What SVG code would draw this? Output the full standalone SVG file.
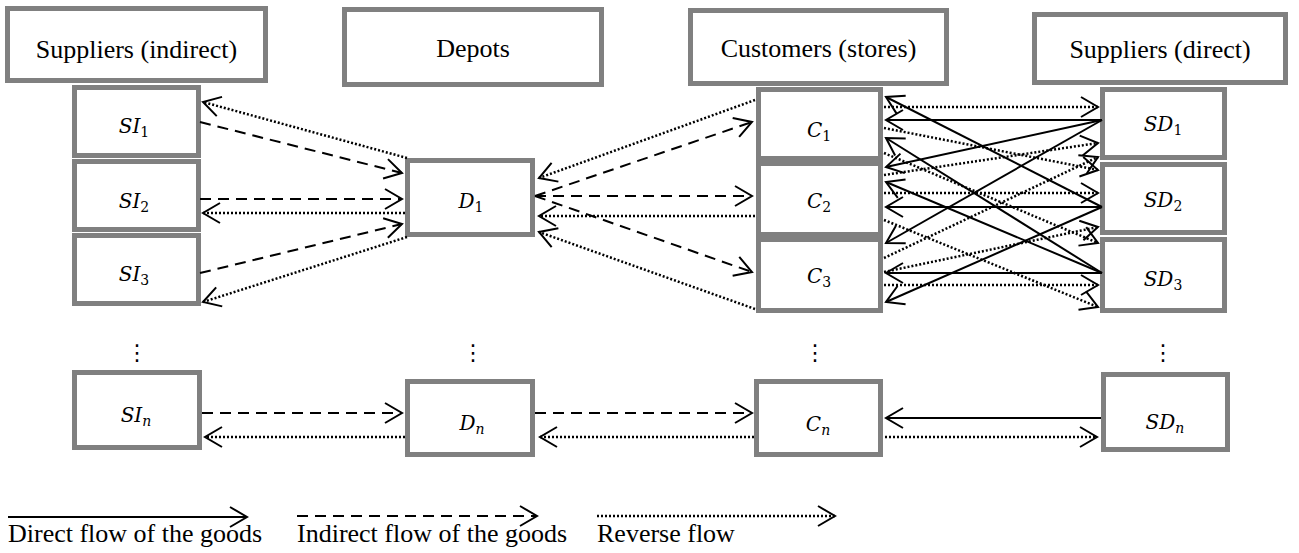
<svg xmlns="http://www.w3.org/2000/svg" width="1299" height="553" viewBox="0 0 1299 553">
<style>
.box{fill:#fff;stroke:#808080;stroke-width:5}
.hd{font-family:"Liberation Serif","Times New Roman",serif;font-size:26px;fill:#000;text-anchor:middle}
.m{font-family:"DejaVu Serif",serif;font-style:italic;font-size:20px;fill:#000;text-anchor:middle}
.sub{font-size:14px;font-style:normal}
.subi{font-size:14px;font-style:italic}
.lg{font-family:"Liberation Serif","Times New Roman",serif;font-size:26px;fill:#000}
.el{font-family:"DejaVu Sans",sans-serif;font-size:22px;fill:#000;text-anchor:middle}
.s{fill:none;stroke:#000;stroke-width:2;marker-end:url(#ah)}
.d{fill:none;stroke:#000;stroke-width:2;stroke-dasharray:11 7;marker-end:url(#ah)}
.o{fill:none;stroke:#000;stroke-width:2.5;stroke-dasharray:2 2;marker-end:url(#ah)}
</style>
<defs>
<marker id="ah" markerWidth="24" markerHeight="24" viewBox="-20 -12 24 24" refX="0" refY="0" orient="auto" markerUnits="userSpaceOnUse" overflow="visible">
<path d="M-17,-10 L0,0 L-17,10" fill="none" stroke="#000" stroke-width="2" stroke-dasharray="none"/>
</marker>
</defs>

<g id="hdr-si"><rect class="box" x="7.5" y="8.5" width="258" height="72"/><text class="hd" x="136.5" y="58">Suppliers (indirect)</text></g>
<g id="hdr-d"><rect class="box" x="344.5" y="9.5" width="257" height="75"/><text class="hd" x="473" y="57">Depots</text></g>
<g id="hdr-c"><rect class="box" x="690.5" y="10.5" width="256" height="73"/><text class="hd" x="818.5" y="57">Customers (stores)</text></g>
<g id="hdr-sd"><rect class="box" x="1034.5" y="14.5" width="251" height="68"/><text class="hd" x="1160" y="58">Suppliers (direct)</text></g>

<g id="SI1"><rect class="box" x="74.5" y="87.5" width="124" height="68"/><text class="m" x="134" y="133">SI<tspan class="sub" dy="4">1</tspan></text></g>
<g id="SI2"><rect class="box" x="74.5" y="161.5" width="124" height="68"/><text class="m" x="134" y="208">SI<tspan class="sub" dy="4">2</tspan></text></g>
<g id="SI3"><rect class="box" x="74.5" y="235.5" width="124" height="68"/><text class="m" x="134" y="281">SI<tspan class="sub" dy="4">3</tspan></text></g>
<g id="SIn"><rect class="box" x="74.5" y="372.5" width="125" height="75"/><text class="m" x="136" y="422">SI<tspan class="subi" dy="4">n</tspan></text></g>

<g id="D1"><rect class="box" x="407.5" y="160.5" width="125" height="74"/><text class="m" x="471" y="208">D<tspan class="sub" dy="4">1</tspan></text></g>
<g id="Dn"><rect class="box" x="407.5" y="381.5" width="125" height="73"/><text class="m" x="472" y="430">D<tspan class="subi" dy="4">n</tspan></text></g>

<g id="C1"><rect class="box" x="758.5" y="89.5" width="122" height="69"/><text class="m" x="819" y="137">C<tspan class="sub" dy="4">1</tspan></text></g>
<g id="C2"><rect class="box" x="758.5" y="163.5" width="122" height="71"/><text class="m" x="819" y="208">C<tspan class="sub" dy="4">2</tspan></text></g>
<g id="C3"><rect class="box" x="758.5" y="239.5" width="122" height="71"/><text class="m" x="819" y="283">C<tspan class="sub" dy="4">3</tspan></text></g>
<g id="Cn"><rect class="box" x="756.5" y="381.5" width="124" height="73"/><text class="m" x="818" y="431">C<tspan class="subi" dy="4">n</tspan></text></g>

<g id="SD1"><rect class="box" x="1102.5" y="89.5" width="122" height="68"/><text class="m" x="1163" y="131">SD<tspan class="sub" dy="4">1</tspan></text></g>
<g id="SD2"><rect class="box" x="1102.5" y="164.5" width="122" height="68"/><text class="m" x="1163" y="207">SD<tspan class="sub" dy="4">2</tspan></text></g>
<g id="SD3"><rect class="box" x="1102.5" y="239.5" width="122" height="71"/><text class="m" x="1163" y="286">SD<tspan class="sub" dy="4">3</tspan></text></g>
<g id="SDn"><rect class="box" x="1103.5" y="374.5" width="124" height="75"/><text class="m" x="1165" y="429">SD<tspan class="subi" dy="4">n</tspan></text></g>

<g id="ellipses">
<text class="el" x="137" y="360">⋮</text>
<text class="el" x="473" y="360">⋮</text>
<text class="el" x="815" y="360">⋮</text>
<text class="el" x="1163" y="360">⋮</text>
</g>

<g id="connectors">
<path class="o" d="M407,158 L203,102"/>
<path class="d" d="M200,122 L402,173"/>
<path class="d" d="M200,199 L402,199"/>
<path class="o" d="M405,213 L203,213"/>
<path class="d" d="M200,273 L402,224"/>
<path class="o" d="M407,237 L203,302"/>

<path class="o" d="M755,100 L539,178"/>
<path class="d" d="M535,196 L752,122"/>
<path class="d" d="M535,196 L752,196"/>
<path class="o" d="M755,216 L539,216"/>
<path class="d" d="M535,196 L752,272"/>
<path class="o" d="M755,309 L539,232"/>

<path class="d" d="M202,413 L402,413"/>
<path class="o" d="M405,437 L205,437"/>
<path class="d" d="M535,413 L752,413"/>
<path class="o" d="M754,437 L540,437"/>
<path class="s" d="M1101,418 L886,418"/>
<path class="o" d="M885,437 L1097,437"/>

<path class="s" d="M1102,120 L886,120"/>
<path class="s" d="M1102,120 L886,167"/>
<path class="s" d="M1102,120 L886,243"/>
<path class="s" d="M1102,207 L886,97"/>
<path class="s" d="M1102,207 L886,207"/>
<path class="s" d="M1102,207 L886,302"/>
<path class="s" d="M1102,273 L886,138"/>
<path class="s" d="M1102,273 L886,182"/>
<path class="s" d="M1102,273 L886,273"/>

<path class="o" d="M884,107 L1098,107"/>
<path class="o" d="M884,128 L1098,170"/>
<path class="o" d="M884,153 L1098,243"/>
<path class="o" d="M884,175 L1098,143"/>
<path class="o" d="M884,193 L1098,193"/>
<path class="o" d="M884,220 L1098,307"/>
<path class="o" d="M884,258 L1098,157"/>
<path class="o" d="M884,272 L1098,227"/>
<path class="o" d="M884,285 L1098,285"/>
</g>

<g id="legend">
<path class="s" d="M8,517 L247,517"/>
<text class="lg" x="8" y="542">Direct flow of the goods</text>
<path class="d" d="M297,516 L537,516"/>
<text class="lg" x="297" y="542">Indirect flow of the goods</text>
<path class="o" d="M597,516 L835,516"/>
<text class="lg" x="597" y="542">Reverse flow</text>
</g>
</svg>
